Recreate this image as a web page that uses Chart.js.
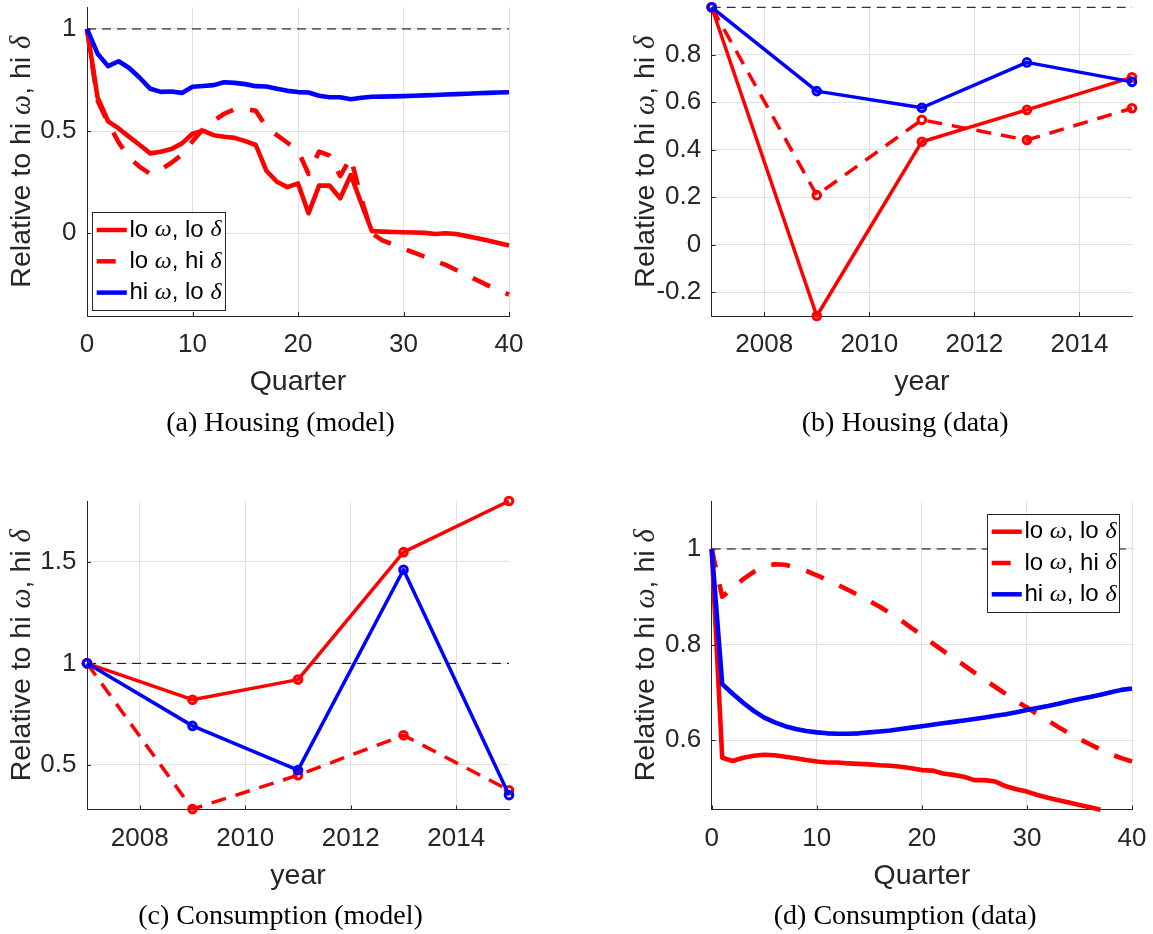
<!DOCTYPE html>
<html><head><meta charset="utf-8">
<script src="https://cdn.jsdelivr.net/npm/chart.js@4.4.1/dist/chart.umd.min.js"></script>
<style>
html,body{margin:0;padding:0;background:#fff;width:1153px;height:934px;overflow:hidden}
canvas{position:absolute;display:block}
</style></head><body>
<canvas id="ca" width="576" height="467" style="left:0;top:0"></canvas>
<canvas id="cb" width="577" height="467" style="left:576px;top:0"></canvas>
<canvas id="cc" width="576" height="467" style="left:0;top:467px"></canvas>
<canvas id="cd" width="577" height="467" style="left:576px;top:467px"></canvas>
<script>
// ---------- categories / tick labels ----------
const quarters = [0,1,2,3,4,5,6,7,8,9,10,11,12,13,14,15,16,17,18,19,20,21,22,23,24,25,26,27,28,29,30,31,32,33,34,35,36,37,38,39,40];
const years = [2007, 2009, 2011, 2013, 2015];
const quarterTicks = [0, 10, 20, 30, 40];
const yearTicks = [2008, 2010, 2012, 2014];
const yTicksA = [0, 0.5, 1];
const yTicksB = [-0.2, 0, 0.2, 0.4, 0.6, 0.8];
const yTicksC = [0.5, 1, 1.5];
const yTicksD = [0.6, 0.8, 1];
const refLevel = [1, 1];

// ---------- (a) Housing (model) ----------
const housingModelLoLo = [1.000,0.665,0.548,0.513,0.472,0.432,0.391,0.399,0.412,0.440,0.487,0.502,0.480,0.472,0.467,0.451,0.432,0.306,0.252,0.226,0.244,0.098,0.233,0.233,0.171,0.285,0.147,0.011,0.008,0.006,0.005,0.004,0.002,-0.004,0.000,-0.004,-0.014,-0.024,-0.036,-0.048,-0.060];
const housingModelLoHi = [1.000,0.650,0.540,0.445,0.370,0.325,0.290,0.312,0.345,0.385,0.450,0.510,0.550,0.585,0.607,0.607,0.600,0.520,0.480,0.443,0.405,0.290,0.400,0.380,0.280,0.370,0.170,0.000,-0.035,-0.055,-0.075,-0.095,-0.115,-0.135,-0.155,-0.180,-0.205,-0.230,-0.255,-0.280,-0.300];
const housingModelHiLo = [1.000,0.879,0.818,0.842,0.809,0.761,0.707,0.692,0.694,0.687,0.717,0.721,0.725,0.739,0.736,0.730,0.720,0.718,0.707,0.697,0.691,0.689,0.673,0.666,0.666,0.656,0.663,0.668,0.669,0.670,0.671,0.673,0.675,0.677,0.679,0.681,0.683,0.685,0.687,0.689,0.690];

// ---------- (b) Housing (data) ----------
const housingDataLoLo = [1.000, -0.300, 0.434, 0.568, 0.705];
const housingDataLoHi = [1.000, 0.209, 0.526, 0.441, 0.575];
const housingDataHiLo = [1.000, 0.647, 0.577, 0.768, 0.686];

// ---------- (c) Consumption (model) ----------
const consModelLoLo = [1.000, 0.821, 0.920, 1.548, 1.800];
const consModelLoHi = [1.000, 0.282, 0.449, 0.646, 0.375];
const consModelHiLo = [1.000, 0.692, 0.474, 1.461, 0.351];

// ---------- (d) Consumption (data) ----------
const consDataLoLo = [1.000,0.563,0.556,0.563,0.567,0.569,0.568,0.565,0.562,0.558,0.555,0.553,0.553,0.551,0.550,0.549,0.547,0.546,0.544,0.541,0.537,0.536,0.530,0.527,0.523,0.516,0.516,0.513,0.503,0.497,0.492,0.485,0.479,0.474,0.469,0.464,0.459,0.454];
const consDataLoHi = [1.000,0.900,0.918,0.937,0.952,0.963,0.968,0.967,0.961,0.954,0.945,0.935,0.925,0.914,0.903,0.891,0.879,0.865,0.851,0.835,0.820,0.803,0.787,0.772,0.757,0.741,0.726,0.711,0.696,0.681,0.668,0.654,0.641,0.627,0.614,0.602,0.591,0.580,0.570,0.562,0.555];
const consDataHiLo = [1.000,0.717,0.697,0.678,0.661,0.647,0.637,0.629,0.623,0.619,0.616,0.614,0.613,0.613,0.614,0.616,0.618,0.620,0.623,0.626,0.629,0.632,0.635,0.638,0.641,0.644,0.647,0.651,0.654,0.658,0.663,0.667,0.671,0.676,0.681,0.686,0.690,0.695,0.700,0.705,0.708];

const seriesNames = ['lo ω, lo δ', 'lo ω, hi δ', 'hi ω, lo δ'];

// ---------- styling ----------
const RED = '#ff0000', BLUE = '#0000ff', AXIS = '#262626', GRID = '#e1e1e1', TXT = '#262626';
const SANS = '"Liberation Sans", Arial, sans-serif';
const SERIF = '"Liberation Serif", "Times New Roman", serif';
Chart.defaults.font.family = SANS;

const fmt = v => String(Math.round(v * 10) / 10);

function toXY(xs, ys) { return ys.map((y, i) => ({ x: xs[i], y })); }

function lineDs(label, xs, ys, color, dashed, st) {
  return {
    label, data: toXY(xs, ys), borderColor: color, backgroundColor: color,
    borderWidth: st.lw, borderDash: dashed ? st.dash : [], borderCapStyle: 'butt', borderJoinStyle: 'round',
    pointRadius: st.pr, pointBorderWidth: st.pbw, pointBorderColor: color,
    pointBackgroundColor: 'rgba(0,0,0,0)', pointHoverRadius: st.pr, tension: 0, clip: false
  };
}
function refDs(xs) {
  return { label: 'ref', data: toXY(xs, refLevel), borderColor: '#000000', borderWidth: 1,
    borderDash: [9, 6], pointRadius: 0, tension: 0, clip: false };
}

function richSegs(txt, size) {
  const out = []; let buf = '';
  for (const ch of txt) {
    if (ch === 'ω' || ch === 'δ') {
      if (buf) out.push({ t: buf, f: `${size}px ${SANS}` }); buf = '';
      out.push({ t: ch, f: `italic ${size}px ${SERIF}` });
    } else buf += ch;
  }
  if (buf) out.push({ t: buf, f: `${size}px ${SANS}` });
  return out;
}
function richWidth(ctx, segs) { let w = 0; for (const s of segs) { ctx.font = s.f; w += ctx.measureText(s.t).width; } return w; }
function drawRich(ctx, segs, x, y) { for (const s of segs) { ctx.font = s.f; ctx.fillText(s.t, x, y); x += ctx.measureText(s.t).width; } }

function makeDecor(cfg) {
  return {
    id: 'decor',
    afterDraw(chart) {
      const ctx = chart.ctx, ca = chart.chartArea;
      const xs = chart.scales.x, ys = chart.scales.y;
      ctx.save();
      // inward tick marks
      ctx.strokeStyle = AXIS; ctx.lineWidth = 1; ctx.setLineDash([]);
      ctx.beginPath();
      xs.ticks.forEach(t => { const p = Math.round(xs.getPixelForValue(t.value)) + 0.5; ctx.moveTo(p, ca.bottom); ctx.lineTo(p, ca.bottom - 4); });
      ys.ticks.forEach(t => { const p = Math.round(ys.getPixelForValue(t.value)) + 0.5; ctx.moveTo(ca.left, p); ctx.lineTo(ca.left + 4, p); });
      ctx.stroke();
      // x-axis title
      ctx.fillStyle = TXT; ctx.textBaseline = 'alphabetic';
      ctx.font = `28.5px ${SANS}`;
      ctx.textAlign = 'center';
      ctx.fillText(cfg.xTitle, (ca.left + ca.right) / 2, ca.bottom + 74);
      // y-axis title (rotated, mixed fonts)
      ctx.save();
      ctx.translate(ca.left - 57.5, (ca.top + ca.bottom) / 2);
      ctx.rotate(-Math.PI / 2);
      ctx.textAlign = 'left';
      const ySegs = richSegs('Relative to hi ω, hi δ', 28.5);
      drawRich(ctx, ySegs, -richWidth(ctx, ySegs) / 2, 0);
      ctx.restore();
      // caption
      ctx.fillStyle = '#000'; ctx.textAlign = 'center'; ctx.font = `28px ${SERIF}`;
      ctx.fillText(cfg.caption, ca.left + 193.5, ca.bottom + 114.7);
      // legend
      if (cfg.legend) {
        const L = cfg.legend;
        ctx.fillStyle = '#fff'; ctx.fillRect(L.x, L.y, L.w, L.h);
        ctx.strokeStyle = AXIS; ctx.lineWidth = 1;
        ctx.strokeRect(Math.round(L.x) + 0.5, Math.round(L.y) + 0.5, L.w, L.h);
        const rows = [17.7, 49, 80.3];
        const styles = [[RED, false], [RED, true], [BLUE, false]];
        rows.forEach((dy, i) => {
          const yy = L.y + dy;
          ctx.strokeStyle = styles[i][0]; ctx.lineWidth = 4.5; ctx.lineCap = 'butt';
          ctx.setLineDash(styles[i][1] ? [19, 19] : []);
          ctx.beginPath(); ctx.moveTo(L.x + 4.7, yy); ctx.lineTo(L.x + 34.8, yy); ctx.stroke();
          ctx.setLineDash([]);
          ctx.fillStyle = '#000'; ctx.textAlign = 'left'; ctx.textBaseline = 'middle';
          drawRich(ctx, richSegs(seriesNames[i], 24), L.x + 37.4, yy);
        });
      }
      ctx.restore();
    }
  };
}

function makeChart(id, W, H, geo, xr, xTicks, yr, yTicks, datasets, cfg) {
  const xh = H - geo.B;
  return new Chart(document.getElementById(id), {
    type: 'line',
    data: { datasets },
    options: {
      responsive: false, animation: false, events: [],
      layout: { padding: { left: 0, top: geo.T, right: W - geo.R, bottom: 0 } },
      plugins: { legend: { display: false }, tooltip: { enabled: false }, title: { display: false } },
      scales: {
        x: {
          type: 'linear', min: xr[0], max: xr[1],
          afterBuildTicks: s => { s.ticks = xTicks.map(v => ({ value: v })); },
          afterFit: s => { s.height = xh; s.paddingLeft = 0; s.paddingRight = 0; s.paddingTop = 0; s.paddingBottom = 0; },
          grid: { color: GRID, lineWidth: 1, drawTicks: false },
          border: { display: true, color: AXIS, width: 1 },
          ticks: { padding: 13.4, color: TXT, font: { size: 26, family: SANS }, maxRotation: 0, autoSkip: false, callback: fmt }
        },
        y: {
          type: 'linear', min: yr[0], max: yr[1],
          afterBuildTicks: s => { s.ticks = yTicks.map(v => ({ value: v })); },
          afterFit: s => { s.width = geo.L; s.paddingLeft = 0; s.paddingRight = 0; s.paddingTop = 0; s.paddingBottom = 0; },
          grid: { color: GRID, lineWidth: 1, drawTicks: false },
          border: { display: true, color: AXIS, width: 1 },
          ticks: { padding: 10.5, color: TXT, font: { size: 26, family: SANS }, autoSkip: false, callback: fmt }
        }
      }
    },
    plugins: [makeDecor(cfg)]
  });
}

const thick = { lw: 4.6, dash: [19, 17], pr: 0, pbw: 0 };
const mark = { lw: 3.5, dash: [15, 10], pr: 3.8, pbw: 3 };

// geometry in canvas-local pixels
const geoLeftTop  = { L: 87,    R: 509, T: 7.3, B: 316 };
const geoRightTop = { L: 135.7, R: 556, T: 7.3, B: 316 };
const geoLeftBot  = { L: 87,    R: 509, T: 34,  B: 342.5 };
const geoRightBot = { L: 135.7, R: 556, T: 34,  B: 342.5 };

makeChart('ca', 576, 467, geoLeftTop, [0, 40], quarterTicks, [-0.405, 1.106], yTicksA, [
  lineDs(seriesNames[2], quarters, housingModelHiLo, BLUE, false, thick),
  lineDs(seriesNames[1], quarters, housingModelLoHi, RED, true, thick),
  lineDs(seriesNames[0], quarters, housingModelLoLo, RED, false, thick),
  refDs([0, 40])
], { xTitle: 'Quarter', caption: '(a) Housing (model)', legend: { x: 92, y: 212.3, w: 133, h: 98 } });

makeChart('cb', 577, 467, geoRightTop, [2007, 2015], yearTicks, [-0.3, 1.0], yTicksB, [
  lineDs(seriesNames[2], years, housingDataHiLo, BLUE, false, mark),
  lineDs(seriesNames[1], years, housingDataLoHi, RED, true, mark),
  lineDs(seriesNames[0], years, housingDataLoLo, RED, false, mark),
  refDs([2007, 2015])
], { xTitle: 'year', caption: '(b) Housing (data)' });

makeChart('cc', 576, 467, geoLeftBot, [2007, 2015], yearTicks, [0.28, 1.8], yTicksC, [
  lineDs(seriesNames[2], years, consModelHiLo, BLUE, false, mark),
  lineDs(seriesNames[1], years, consModelLoHi, RED, true, mark),
  lineDs(seriesNames[0], years, consModelLoLo, RED, false, mark),
  refDs([2007, 2015])
], { xTitle: 'year', caption: '(c) Consumption (model)' });

makeChart('cd', 577, 467, geoRightBot, [0, 40], quarterTicks, [0.4545, 1.1005], yTicksD, [
  lineDs(seriesNames[2], quarters, consDataHiLo, BLUE, false, thick),
  lineDs(seriesNames[1], quarters, consDataLoHi, RED, true, thick),
  lineDs(seriesNames[0], quarters, consDataLoLo, RED, false, thick),
  refDs([0, 40])
], { xTitle: 'Quarter', caption: '(d) Consumption (data)', legend: { x: 411, y: 47, w: 132, h: 98 } });
</script>
</body></html>
